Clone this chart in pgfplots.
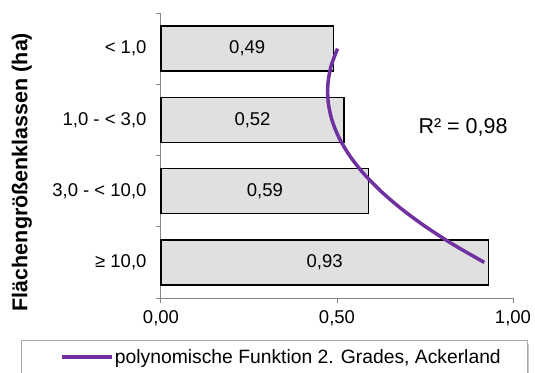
\documentclass[border=0pt]{standalone}
\usepackage{pgfplots}
\pgfplotsset{compat=1.18}
\usepackage{fontspec}
\setmainfont{Liberation Sans}
\definecolor{trend}{RGB}{112,48,160}
\definecolor{axgray}{RGB}{134,134,134}
\definecolor{barfill}{RGB}{224,224,224}
\newcommand{\fs}{\fontsize{18.5}{22}\selectfont}
\begin{document}
\begin{tikzpicture}
\useasboundingbox (-161pt,-74pt) rectangle (374pt,298pt);
% legend shadow
\fill[gray!45] (-136pt,-46pt) rectangle (368pt,-95pt);
\begin{axis}[
  name=ax,
  at={(0pt,0pt)}, anchor=south west,
  scale only axis,
  width=352pt, height=285pt,
  xmin=0, xmax=1, ymin=0.5, ymax=4.5,
  y dir=reverse,
  axis x line=bottom, axis y line=left,
  axis line style={axgray, line width=1pt, -},
  xtick={0,0.5,1}, minor xtick={0,0.5,1},
  ytick={1,2,3,4}, minor ytick={0.5,1.5,2.5,3.5,4.5},
  yticklabels={{< 1,0},{1,0 - < 3,0},{3,0 - < 10,0},{≥ 10,0}},
  major tick length=0pt, minor tick length=5pt,
  tick align=outside,
  every tick/.style={axgray, line width=1pt},
  minor tick style={axgray, line width=1pt},
  /pgf/number format/assume math mode=true,
  /pgf/number format/.cd, fixed, fixed zerofill, precision=2, use comma,
  /pgfplots/.cd,
  tick label style={font=\fs, text=black},
  xticklabel style={yshift=-9pt},
  yticklabel style={xshift=-11pt},
  ylabel={\textbf{Flächengrößenklassen (ha)}},
  ylabel style={font=\fontsize{21.5}{24}\selectfont, at={(axis description cs:-0.395,0.442)}, anchor=center},
  clip=false,
  legend style={at={(axis description cs:-0.3977,-0.1474)}, anchor=north west,
    draw=axgray!70, fill=white, inner xsep=0pt, inner ysep=9pt,
    font=\fontsize{19.3}{23}\selectfont, column sep=0pt,
    nodes={inner sep=0pt}},
  legend image code/.code={\path[draw=none] (0pt,0pt) -- (91pt,0pt); \draw[#1] (41pt,0pt) -- (91pt,0pt);},
]
\addplot[xbar, bar width=0.632, fill=barfill, draw=black, line width=1.3pt, forget plot]
  coordinates {(0.49,1) (0.52,2) (0.59,3) (0.93,4)};
\addplot[draw=none, mark=none, forget plot, nodes near coords, point meta=explicit symbolic,
  nodes near coords style={anchor=center, font=\fs, text=black}]
  coordinates {(0.245,1) [0,49] (0.26,2) [0,52] (0.295,3) [0,59] (0.465,4) [0,93]};
\addplot[trend, line width=3.5pt, smooth]
  coordinates {(0.5015,1) (0.4829,1.25) (0.4741,1.5) (0.4750,1.75) (0.4855,2)
  (0.5057,2.25) (0.5356,2.5) (0.5752,2.75) (0.6245,3) (0.6834,3.25)
  (0.7521,3.5) (0.8304,3.75) (0.9185,4)};
\addlegendentry{\makebox[413pt][l]{\hspace*{1pt}polynomische Funktion 2. Grades, Ackerland}}
\node[font=\fontsize{21.5}{25}\selectfont, anchor=center] at (axis cs:0.858,2.1) {R² = 0,98};
\end{axis}
\end{tikzpicture}
\end{document}
